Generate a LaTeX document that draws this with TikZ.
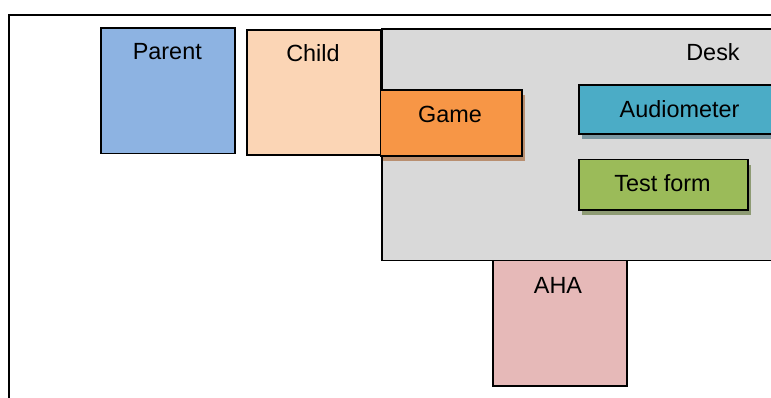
\documentclass[tikz,border=0pt]{standalone}
\usepackage{fontspec}
\setmainfont{Liberation Sans}
\usetikzlibrary{shadows}
\definecolor{parentblue}{HTML}{8DB3E2}
\definecolor{childpeach}{HTML}{FBD5B5}
\definecolor{deskgray}{HTML}{D9D9D9}
\definecolor{gameorange}{HTML}{F79646}
\definecolor{audioteal}{HTML}{4BACC6}
\definecolor{formgreen}{HTML}{9BBB59}
\definecolor{ahapink}{HTML}{E6B9B8}
\definecolor{gameshade}{HTML}{B98F70}
\definecolor{audioshade}{HTML}{7A96A0}
\definecolor{formshade}{HTML}{8E9B74}
\tikzset{
  box/.style={draw=black, line width=1.8pt, rectangle, inner sep=0pt, anchor=north west},
  shaded/.style={drop shadow={shadow xshift=3pt, shadow yshift=-5pt, fill=#1, opacity=1}},
  lbl/.style={inner sep=0pt, anchor=base, font=\fontsize{23.4}{28}\selectfont}
}
\begin{document}
\begin{tikzpicture}[x=1pt, y=-1pt]
\useasboundingbox (0,0) rectangle (771,398);
\clip (0,0) rectangle (771,398);
% outer frame
\draw[line width=1.4pt] (9,410) -- (9,15) -- (790,15);
% people
\node[box, fill=parentblue, minimum width=134, minimum height=125.7] (parent) at (100.3,27) {};
\node[box, fill=childpeach, minimum width=134.3, minimum height=125.3] (child) at (245.7,29) {};
% desk and what stands on it
\node[box, fill=deskgray, minimum width=420, minimum height=231.5] (desk) at (381,28) {};
\node[box, fill=ahapink, minimum width=134, minimum height=125.8] (aha) at (491.7,259.5) {};
\node[box, shaded=gameshade, fill=gameorange, minimum width=141.5, minimum height=66] (game) at (379.5,89) {};
\node[box, shaded=audioshade, fill=audioteal, minimum width=222, minimum height=49] (audio) at (578,84.3) {};
\node[box, shaded=formshade, fill=formgreen, minimum width=169.3, minimum height=50.6] (form) at (578,158.7) {};
% labels
\node[lbl] (parentlbl) at (167.3,60) {Parent};
\node[lbl] (childlbl) at (313,62) {Child};
\node[lbl] (desklbl) at (713,61) {Desk};
\node[lbl] (gamelbl) at (450,123) {Game};
\node[lbl] (audiolbl) at (679.5,118) {Audiometer};
\node[lbl] (formlbl) at (662.5,192) {Test form};
\node[lbl] (ahalbl) at (558,293) {AHA};
\end{tikzpicture}
\end{document}
